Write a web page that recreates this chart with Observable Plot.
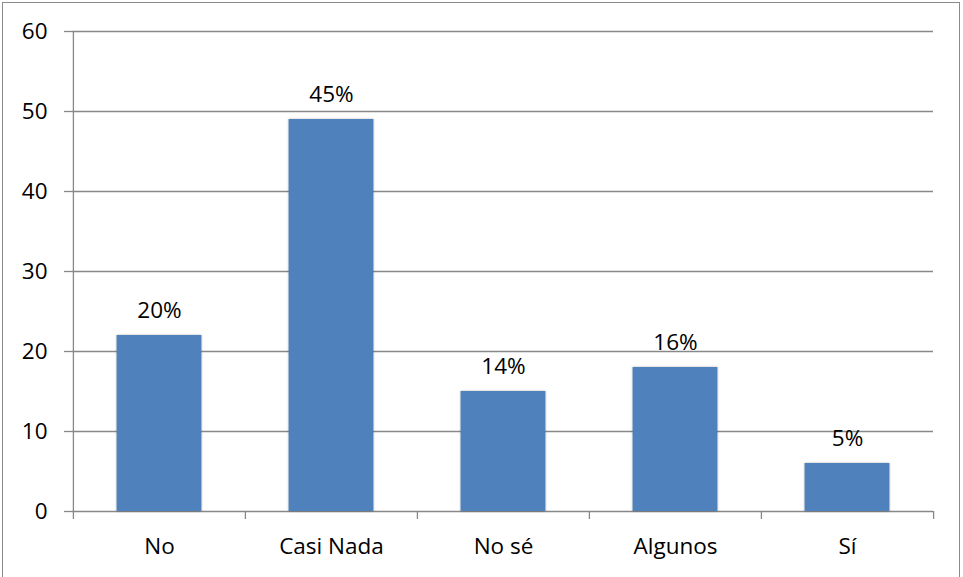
<!DOCTYPE html>
<html>
<head>
<meta charset="utf-8">
<script src="https://cdn.jsdelivr.net/npm/d3@7"></script>
<script src="https://cdn.jsdelivr.net/npm/@observablehq/plot@0.6"></script>
<style>
  html, body { margin: 0; padding: 0; background: #fff; }
  #wrap { position: relative; width: 963px; height: 577px; overflow: hidden; }
  #border { position: absolute; left: 2px; top: 2px; width: 958px; height: 600px;
            border: 1.3px solid #8a8a8a; box-sizing: border-box; }
  #chart { position: absolute; left: 0; top: 0; }
</style>
</head>
<body>
<div id="wrap"><div id="border"></div><div id="chart"></div></div>
<script>
// Responses per answer
const categories = ["No", "Casi Nada", "No sé", "Algunos", "Sí"];
const counts = [22, 49, 15, 18, 6];
const yTicks = [0, 10, 20, 30, 40, 50, 60];

const total = d3.sum(counts);
const data = categories.map((c, i) => ({
  category: c,
  count: counts[i],
  label: Math.round((counts[i] / total) * 100) + "%"
}));

const width = 963, height = 577;
const marginLeft = 72, marginRight = 30, marginTop = 31, marginBottom = 66;
const step = (width - marginLeft - marginRight) / categories.length;
const barWidth = 85;
const inset = (step - barWidth) / 2;
const font = "'Open Sans', sans-serif";
const grid = "#888888";

const chart = Plot.plot({
  width, height, marginLeft, marginRight, marginTop, marginBottom,
  style: { fontFamily: font, fontSize: "22.5px", color: "#000", background: "transparent" },
  x: { domain: categories, padding: 0, label: null },
  y: { domain: [0, 60], label: null },
  marks: [
    // horizontal gridlines (the one at 0 is the baseline)
    Plot.ruleY(yTicks, { stroke: grid, strokeWidth: 1.3 }),
    // vertical axis line
    Plot.ruleX([categories[0]], { dx: -step / 2, y1: 0, y2: 60, stroke: grid, strokeWidth: 1.3 }),
    // category boundary ticks below the baseline (1 unit = 8px)
    Plot.ruleX(categories, { dx: -step / 2, y1: 0, y2: -1, stroke: grid, strokeWidth: 1.3 }),
    Plot.ruleX([categories[categories.length - 1]], { dx: step / 2, y1: 0, y2: -1, stroke: grid, strokeWidth: 1.3 }),
    Plot.barY(data, {
      x: "category", y: "count",
      fill: "#4f81bd",
      insetLeft: inset, insetRight: inset
    }),
    Plot.text(data, {
      x: "category", y: "count", text: "label",
      dy: -25, fill: "#000", fontSize: 22.5
    }),
    Plot.axisY({
      ticks: yTicks, tickSize: 8, tickPadding: 17, stroke: grid, strokeWidth: 1.3,
      label: null, fontSize: 22.5, tickFormat: d => d
    }),
    Plot.axisX({ tickSize: 0, tickPadding: 27, label: null, fontSize: 22.5 })
  ]
});

document.getElementById("chart").appendChild(chart);

// soft edge around the bars
d3.select(chart).selectAll('g[aria-label="bar"] rect')
  .style("filter", "drop-shadow(0.8px 0.8px 1.2px rgba(0,0,0,0.28))");
</script>
</body>
</html>
